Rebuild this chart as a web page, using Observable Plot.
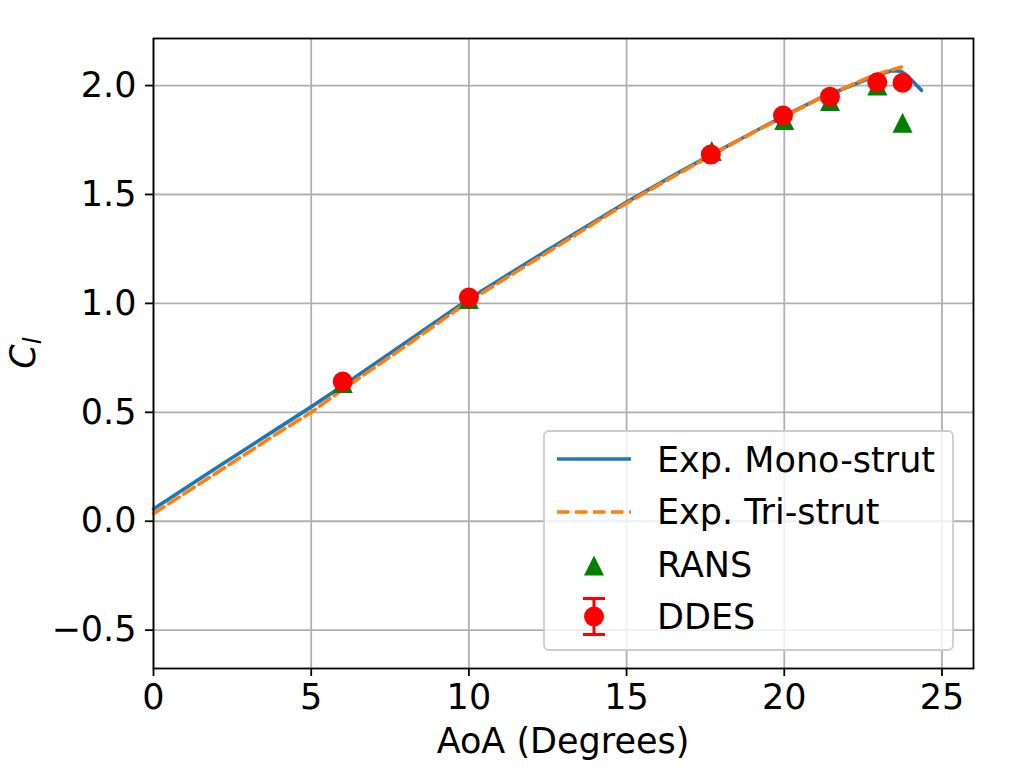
<!DOCTYPE html>
<html>
<head>
<meta charset="utf-8">
<script src="https://cdn.jsdelivr.net/npm/d3@7"></script>
<script src="https://cdn.jsdelivr.net/npm/@observablehq/plot@0.6"></script>
<style>
  html, body { margin: 0; padding: 0; background: white; }
</style>
</head>
<body>
<div id="chart"></div>
<script>
// Tick values
const xTicks = [0, 5, 10, 15, 20, 25];
const yTicks = [-0.5, 0, 0.5, 1.0, 1.5, 2.0];

// Exp. Mono-strut (solid blue)
const monoAoA = [0, 2, 4, 5, 6, 8, 10, 12.5, 15, 16.7, 18, 19.15, 20.3, 21.05, 21.84, 22.64, 23.17, 23.4, 23.7, 23.9, 24.12, 24.35];
const monoCl  = [0.056, 0.245, 0.432, 0.525, 0.622, 0.82, 1.02, 1.245, 1.465, 1.605, 1.707, 1.796, 1.883, 1.937, 1.983, 2.03, 2.058, 2.068, 2.066, 2.045, 2.013, 1.978];

// Exp. Tri-strut (dashed orange)
const triAoA = [0, 2, 4, 5, 6, 8, 10, 12.5, 15, 16.7, 18, 19.15, 20.3, 21.05, 21.84, 22.64, 23.17, 23.72];
const triCl  = [0.035, 0.222, 0.41, 0.50, 0.605, 0.805, 1.01, 1.235, 1.46, 1.60, 1.705, 1.795, 1.88, 1.935, 1.985, 2.035, 2.062, 2.085];

// RANS (green triangles)
const ransAoA = [6, 10, 17.7, 20, 21.45, 22.95, 23.75];
const ransCl  = [0.635, 1.02, 1.70, 1.842, 1.929, 2.0, 1.829];

// DDES (red circles)
const ddesAoA = [6, 10, 17.67, 19.96, 21.45, 22.95, 23.75];
const ddesCl  = [0.641, 1.027, 1.683, 1.862, 1.949, 2.015, 2.013];

const legendLabels = ["Exp. Mono-strut", "Exp. Tri-strut", "RANS", "DDES"];

const toRows = (xs, ys) => xs.map((a, i) => ({aoa: a, cl: ys[i]}));
const mono = toRows(monoAoA, monoCl);
const tri = toRows(triAoA, triCl);
const rans = toRows(ransAoA, ransCl);
const ddes = toRows(ddesAoA, ddesCl);

const C_BLUE = "#1f77b4", C_ORANGE = "#ff7f0e", C_GREEN = "#008000", C_RED = "#ff0000";
const LW = 3.6;

// matplotlib-style "^" marker (bounding box centered)
const mplTriangle = {
  draw(ctx, size) {
    const s = Math.sqrt(size / Math.PI);
    ctx.moveTo(0, -s);
    ctx.lineTo(s, s);
    ctx.lineTo(-s, s);
    ctx.closePath();
  }
};

const fmtY = d => d.toFixed(1).replace("-", "\u2212");

const chart = Plot.plot({
  width: 1024,
  height: 768,
  marginLeft: 153,
  marginRight: 51,
  marginTop: 38,
  marginBottom: 100,
  x: {domain: [0, 26]},
  y: {domain: [-0.676, 2.216]},
  style: {fontFamily: "'DejaVu Sans', sans-serif", fontSize: "35px", color: "black", background: "white", overflow: "visible"},
  marks: [
    Plot.gridX(xTicks, {stroke: "#b0b0b0", strokeOpacity: 1, strokeWidth: 1.8}),
    Plot.gridY(yTicks, {stroke: "#b0b0b0", strokeOpacity: 1, strokeWidth: 1.8}),
    Plot.line(mono, {x: "aoa", y: "cl", stroke: C_BLUE, strokeWidth: LW, strokeLinejoin: "round"}),
    Plot.line(tri, {x: "aoa", y: "cl", stroke: C_ORANGE, strokeWidth: LW, strokeDasharray: "12.5,5.5"}),
    Plot.dot(rans, {x: "aoa", y: "cl", symbol: mplTriangle, r: 10, fill: C_GREEN, stroke: "none"}),
    Plot.dot(ddes, {x: "aoa", y: "cl", r: 10, fill: C_RED, stroke: "none"}),
    Plot.frame({stroke: "black", strokeWidth: 1.8}),
    Plot.axisX(xTicks, {tickSize: 8, tickPadding: 8, strokeWidth: 1.8, label: null, tickFormat: d => String(d), fontSize: 35}),
    Plot.axisY(yTicks, {tickSize: 8, tickPadding: 9, strokeWidth: 1.8, label: null, tickFormat: fmtY, fontSize: 35})
  ]
});

document.getElementById("chart").appendChild(chart);

const svg = d3.select(chart);
const font = "'DejaVu Sans', sans-serif";

// Axis labels
svg.append("text")
  .attr("x", 563).attr("y", 753)
  .attr("text-anchor", "middle")
  .attr("font-family", font).attr("font-size", 35).attr("fill", "black")
  .text("AoA (Degrees)");

const yl = svg.append("text")
  .attr("transform", "translate(35,353) rotate(-90)")
  .attr("text-anchor", "middle")
  .attr("font-family", font).attr("font-size", 35).attr("fill", "black")
  .attr("font-style", "italic");
yl.append("tspan").text("C");
yl.append("tspan").attr("font-size", 24.5).attr("dy", 6).text("l");

// Legend
const lg = svg.append("g");
lg.append("rect")
  .attr("x", 544).attr("y", 431).attr("width", 409).attr("height", 219)
  .attr("rx", 5)
  .attr("fill", "white").attr("fill-opacity", 0.8)
  .attr("stroke", "#cccccc").attr("stroke-width", 1.8);

const rowY = [459, 512, 565.5, 616.5];
const baseY = [471.5, 524, 576.5, 628.5];
const hx0 = 557, hx1 = 631, hxc = 594;

lg.append("line").attr("x1", hx0).attr("x2", hx1).attr("y1", rowY[0]).attr("y2", rowY[0])
  .attr("stroke", C_BLUE).attr("stroke-width", LW);
lg.append("line").attr("x1", hx0).attr("x2", hx1).attr("y1", rowY[1]).attr("y2", rowY[1])
  .attr("stroke", C_ORANGE).attr("stroke-width", LW).attr("stroke-dasharray", "12.5,5.5");
lg.append("path")
  .attr("d", `M${hxc},${rowY[2] - 10}L${hxc + 10},${rowY[2] + 10}L${hxc - 10},${rowY[2] + 10}Z`)
  .attr("fill", C_GREEN);
// DDES: error bar + circle
lg.append("line").attr("x1", hxc).attr("x2", hxc).attr("y1", rowY[3] - 18).attr("y2", rowY[3] + 18)
  .attr("stroke", C_RED).attr("stroke-width", 3);
lg.append("line").attr("x1", hxc - 11).attr("x2", hxc + 11).attr("y1", rowY[3] - 18).attr("y2", rowY[3] - 18)
  .attr("stroke", C_RED).attr("stroke-width", 3);
lg.append("line").attr("x1", hxc - 11).attr("x2", hxc + 11).attr("y1", rowY[3] + 18).attr("y2", rowY[3] + 18)
  .attr("stroke", C_RED).attr("stroke-width", 3);
lg.append("circle").attr("cx", hxc).attr("cy", rowY[3]).attr("r", 10).attr("fill", C_RED);

legendLabels.forEach((t, i) => {
  lg.append("text")
    .attr("x", 657).attr("y", baseY[i])
    .attr("text-anchor", "start")
    .attr("font-family", font).attr("font-size", 35).attr("fill", "black")
    .text(t);
});
</script>
</body>
</html>
